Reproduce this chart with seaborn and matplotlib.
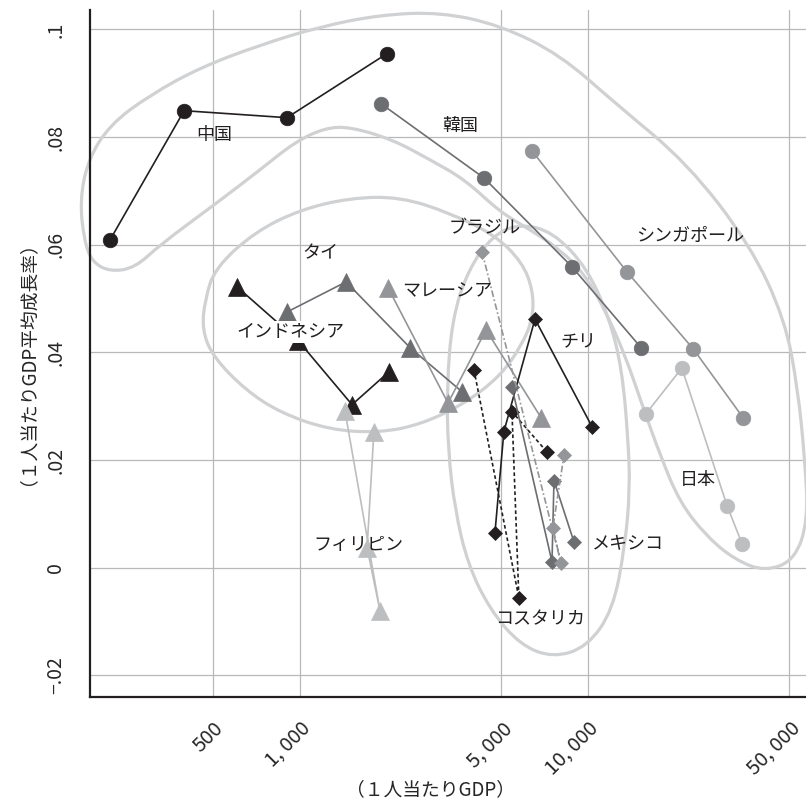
import numpy as np
import pandas as pd
import matplotlib
matplotlib.use("Agg")
import matplotlib.pyplot as plt
from matplotlib.path import Path
from matplotlib.patches import PathPatch
import seaborn as sns

# ---- data (GDP per capita, avg growth), in time order
china_gdp = [219, 396, 901, 2005]
china_growth = [0.0609, 0.0849, 0.0836, 0.0955]
korea_gdp = [1911, 4355, 8800, 15280]
korea_growth = [0.0862, 0.0724, 0.0559, 0.0409]
singapore_gdp = [6400, 13640, 23170, 34540]
singapore_growth = [0.0774, 0.0550, 0.0407, 0.0279]
japan_gdp = [15890, 21180, 30420, 34260]
japan_growth = [0.0286, 0.0371, 0.0115, 0.0045]
thailand_gdp = [901, 1445, 2410, 3652]
thailand_growth = [0.0475, 0.0531, 0.0409, 0.0327]
indonesia_gdp = [604, 985, 1516, 2036]
indonesia_growth = [0.0522, 0.0422, 0.0303, 0.0364]
malaysia_gdp = [2022, 3266, 4427, 6870]
malaysia_growth = [0.0520, 0.0306, 0.0442, 0.0279]
philippines_gdp = [1432, 1896, 1710, 1806]
philippines_growth = [0.0292, -0.0080, 0.0037, 0.0253]
costarica_gdp = [4018, 5755, 5445, 7210]
costarica_growth = [0.0368, -0.0056, 0.0290, 0.0215]
chile_gdp = [4753, 5105, 6545, 10330]
chile_growth = [0.0065, 0.0253, 0.0462, 0.0262]
mexico_gdp = [5445, 7500, 7620, 8940]
mexico_growth = [0.0336, 0.0011, 0.0162, 0.0048]
brazil_gdp = [4285, 8060, 7550, 8260]
brazil_growth = [0.0587, 0.0009, 0.0074, 0.0210]

series = {
    "中国": (china_gdp, china_growth),
    "韓国": (korea_gdp, korea_growth),
    "シンガポール": (singapore_gdp, singapore_growth),
    "日本": (japan_gdp, japan_growth),
    "タイ": (thailand_gdp, thailand_growth),
    "インドネシア": (indonesia_gdp, indonesia_growth),
    "マレーシア": (malaysia_gdp, malaysia_growth),
    "フィリピン": (philippines_gdp, philippines_growth),
    "コスタリカ": (costarica_gdp, costarica_growth),
    "チリ": (chile_gdp, chile_growth),
    "メキシコ": (mexico_gdp, mexico_growth),
    "ブラジル": (brazil_gdp, brazil_growth),
}

# country label positions (gdp, growth)
label_pos = {
    "中国": (502, 0.0804),
    "韓国": (3594, 0.0821),
    "シンガポール": (22600, 0.0617),
    "タイ": (1173, 0.0585),
    "ブラジル": (4385, 0.0630),
    "マレーシア": (3236, 0.0513),
    "インドネシア": (923, 0.0438),
    "チリ": (9230, 0.0418),
    "日本": (24100, 0.0163),
    "フィリピン": (1590, 0.0043),
    "メキシコ": (13770, 0.0043),
    "コスタリカ": (6810, -0.0095),
}

# hand-drawn region outlines (log10 gdp, growth)
outline_ne_logx = [2.250, 2.236, 2.264, 2.340, 2.479, 2.653, 2.861, 3.069, 3.278, 3.486,
                   3.694, 3.903, 4.101, 4.344, 4.563, 4.684, 4.729, 4.753, 4.764, 4.719,
                   4.615, 4.510, 4.413, 4.319, 4.250, 4.188, 4.128, 4.059, 3.990, 3.903,
                   3.799, 3.694, 3.573, 3.451, 3.323, 3.174, 3.087, 2.983, 2.861, 2.712,
                   2.514, 2.427, 2.340, 2.278]
outline_ne_y = [0.0609, 0.0683, 0.0758, 0.0823, 0.0878, 0.0929, 0.0971, 0.1005, 0.1027, 0.1032,
                0.1008, 0.0953, 0.0860, 0.0752, 0.0600, 0.0461, 0.0331, 0.0201, 0.0089, 0.0015,
                -0.0007, 0.0015, 0.0058, 0.0121, 0.0210, 0.0303, 0.0396, 0.0479, 0.0544, 0.0591,
                0.0628, 0.0661, 0.0721, 0.0758, 0.0795, 0.0819, 0.0817, 0.0791, 0.0739, 0.0678,
                0.0600, 0.0557, 0.0550, 0.0568]
outline_se_logx = [2.670, 2.705, 2.844, 3.000, 3.174, 3.347, 3.521, 3.677, 3.771, 3.809,
                   3.809, 3.771, 3.694, 3.566, 3.417, 3.278, 3.104, 2.931, 2.809, 2.698, 2.660]
outline_se_y = [0.0498, 0.0557, 0.0624, 0.0665, 0.0687, 0.0689, 0.0659, 0.0618, 0.0568, 0.0516,
                0.0464, 0.0414, 0.0355, 0.0303, 0.0266, 0.0251, 0.0256, 0.0288, 0.0331, 0.0392, 0.0442]
outline_la_logx = [3.510, 3.528, 3.583, 3.670, 3.764, 3.878, 3.997, 4.076, 4.118, 4.139,
                   4.146, 4.128, 4.087, 3.997, 3.878, 3.764, 3.660, 3.583, 3.538, 3.514]
outline_la_y = [0.0336, 0.0461, 0.0553, 0.0618, 0.0639, 0.0624, 0.0557, 0.0461, 0.0368, 0.0243,
                0.0145, 0.0039, -0.0078, -0.0147, -0.0167, -0.0143, -0.0078, 0.0006, 0.0108, 0.0219]

x_ticks = [500, 1000, 5000, 10000, 50000]
x_ticklabels = ["500", "1, 000", "5, 000", "10, 000", "50, 000"]
x_minor = [20000, 30000, 40000]
y_ticks = [-0.02, 0, 0.02, 0.04, 0.06, 0.08, 0.1]
y_ticklabels = ["−.02", "0", ".02", ".04", ".06", ".08", ".1"]
y_minor = [-0.01, 0.01, 0.03, 0.05, 0.07, 0.09]

rows = []
for name, (gdp, growth) in series.items():
    for i, (g, r) in enumerate(zip(gdp, growth)):
        rows.append({"country": name, "step": i, "gdp": g, "growth": r})
df = pd.DataFrame(rows)

BLACK = "#231f20"
DARK = "#6d6e71"
MID = "#939598"
LIGHT = "#bcbec0"
OUTLINE = "#d0d1d3"

# colour, marker, marker size, linestyle
styles = {
    "中国": (BLACK, "o", 10.5, "-"),
    "韓国": (DARK, "o", 10.5, "-"),
    "シンガポール": (MID, "o", 10.5, "-"),
    "日本": (LIGHT, "o", 10.5, "-"),
    "タイ": (DARK, "^", 12.5, "-"),
    "インドネシア": (BLACK, "^", 12.5, "-"),
    "マレーシア": (MID, "^", 12.5, "-"),
    "フィリピン": (LIGHT, "^", 12.5, "-"),
    "コスタリカ": (BLACK, "D", 7.5, (0, (2.2, 1.6))),
    "チリ": (BLACK, "D", 7.5, "-"),
    "メキシコ": (DARK, "D", 7.5, "-"),
    "ブラジル": (MID, "D", 7.5, (0, (4, 1.5, 1, 1.5))),
}

sns.set_style("white")
plt.rcParams["font.family"] = ["Noto Sans CJK JP", "DejaVu Sans"]
plt.rcParams["axes.unicode_minus"] = False

fig = plt.figure(figsize=(8.06, 8.06), dpi=100)
ax = fig.add_axes([0.1117, 0.1352, 0.8883, 0.8524])


def draw_outline(ax, logx, y):
    pts = np.column_stack([logx, y])
    mids = (pts + np.roll(pts, -1, axis=0)) / 2
    verts = [mids[-1]]
    codes = [Path.MOVETO]
    for p, m in zip(pts, mids):
        verts += [p, m]
        codes += [Path.CURVE3, Path.CURVE3]
    verts = np.array(verts)
    verts[:, 0] = 10 ** verts[:, 0]
    patch = PathPatch(Path(verts, codes), fill=False, ec=OUTLINE, lw=2.3,
                      clip_on=False, zorder=1.5)
    ax.add_patch(patch)


draw_outline(ax, outline_ne_logx, outline_ne_y)
draw_outline(ax, outline_se_logx, outline_se_y)
draw_outline(ax, outline_la_logx, outline_la_y)

for name in series:
    color, marker, ms, ls = styles[name]
    sns.lineplot(
        data=df[df["country"] == name],
        x="gdp",
        y="growth",
        sort=False,
        estimator=None,
        color=color,
        marker=marker,
        markersize=ms,
        markeredgecolor=color,
        markeredgewidth=0.5,
        linestyle=ls,
        linewidth=1.2,
        ax=ax,
        zorder=3,
    )

for name, (lx, ly) in label_pos.items():
    kw = {}
    if name == "インドネシア":
        kw["bbox"] = dict(fc="white", ec="none", pad=1.5)
    ax.text(lx, ly, name, ha="center", va="center", fontsize=13, color=BLACK,
            zorder=5, **kw)

ax.set_xscale("log")
ax.set_xlim(10 ** 2.271, 10 ** 4.757)
ax.set_ylim(-0.0240, 0.1036)

ax.set_xticks(x_ticks)
ax.set_xticklabels(x_ticklabels, rotation=45, ha="right", rotation_mode="anchor")
ax.set_xticks(x_minor, minor=True)
ax.set_xticklabels([], minor=True)
ax.set_yticks(y_ticks)
ax.set_yticklabels(y_ticklabels, rotation=90, va="center")
ax.set_yticks(y_minor, minor=True)

ax.grid(True, which="major", color="#b8b8b8", linewidth=0.9)
ax.set_axisbelow(True)
for side in ["top", "right"]:
    ax.spines[side].set_visible(False)
for side in ["left", "bottom"]:
    ax.spines[side].set_linewidth(1.6)
    ax.spines[side].set_color(BLACK)
ax.tick_params(axis="x", which="major", length=13, width=1, labelsize=14.5, pad=2)
ax.tick_params(axis="x", which="minor", length=7, width=1)
ax.tick_params(axis="y", which="both", length=10, width=1, labelsize=14, pad=7)

ax.set_xlabel("（１人当たりGDP）", fontsize=13.5, va="center")
ax.xaxis.set_label_coords(0.476, -0.1356)
ax.set_ylabel("（１人当たりGDP平均成長率）", fontsize=13.5, va="center")
ax.yaxis.set_label_coords(-0.1006, 0.5)

fig.savefig("out.png", dpi=100)
